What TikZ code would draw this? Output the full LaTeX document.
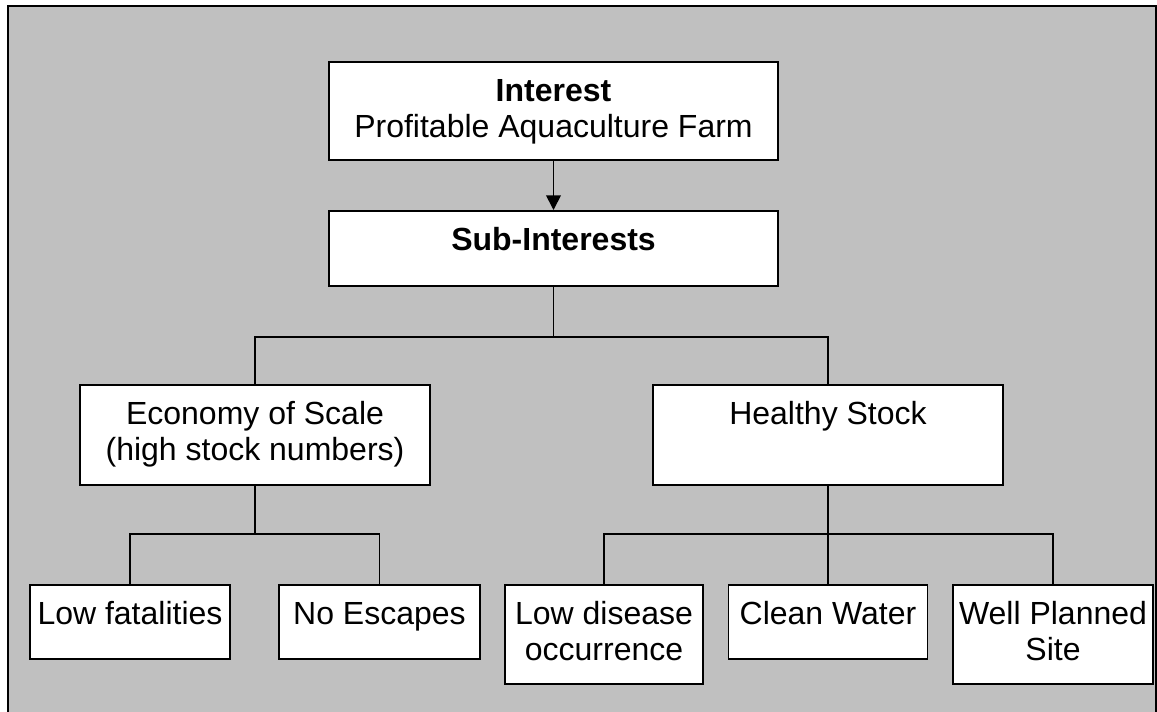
\documentclass[tikz,border=0pt]{standalone}
\usepackage{fontspec}
\setmainfont{Liberation Sans}
\usetikzlibrary{arrows.meta}
\definecolor{panelgray}{HTML}{C0C0C0}
\newcommand{\lines}[1]{\begin{tabular}[t]{@{}c@{}}#1\end{tabular}}
\begin{document}
\begin{tikzpicture}[x=0.75pt,y=-0.75pt,
  box/.style={draw=black, fill=white, line width=1.2pt, inner sep=0pt,
    anchor=north, text height=30pt,
    font=\fontsize{24}{27}\selectfont},
  wire/.style={draw=black, line width=1.3pt},
  arrowwire/.style={wire, -{Triangle[width=11pt,length=11pt]}}]
  \useasboundingbox (0,0) rectangle (1157,711);
  % grey panel with its frame
  \draw[fill=panelgray, line width=1.5pt] (8,6) rectangle (1156,730);

  % top level
  \node[box, minimum width=336.75pt, text depth=43.5pt] (int) at (553.5,61)
    {\lines{\textbf{Interest}\\Profitable Aquaculture Farm}};
  \node[box, minimum width=336.75pt, text depth=26.25pt] (sub) at (553.5,210)
    {\lines{\textbf{Sub-Interests}}};

  % second level
  \node[box, minimum width=262.5pt, text depth=45pt] (eco) at (255,384)
    {\lines{Economy of Scale\\(high stock numbers)}};
  \node[box, minimum width=262.5pt, text depth=45pt] (hs) at (828,384)
    {\lines{Healthy Stock}};

  % third level
  \node[box, minimum width=150pt, text depth=25.5pt] (lf) at (130,584)
    {\lines{Low fatalities}};
  \node[box, minimum width=150.75pt, text depth=25.5pt] (ne) at (379.5,584)
    {\lines{No Escapes}};
  \node[box, minimum width=148.5pt, text depth=44.25pt] (ld) at (604,584)
    {\lines{Low disease\\occurrence}};
  \node[box, minimum width=149.25pt, text depth=25.5pt] (cw) at (828,584)
    {\lines{Clean Water}};
  \node[box, minimum width=150pt, text depth=44.25pt] (wp) at (1053,584)
    {\lines{Well Planned\\Site}};

  % junction points of the tree
  \coordinate (j1) at (553.5,337);
  \coordinate (j2) at (255,534);
  \coordinate (j3) at (828,534);

  % connectors
  \draw[arrowwire] (int.south) -- (sub.north);
  \draw[wire] (sub.south) -- (j1);
  \draw[wire] (eco.north) |- (j1) -| (hs.north);
  \draw[wire] (eco.south) -- (j2);
  \draw[wire] (lf.north) |- (j2) -| (ne.north);
  \draw[wire] (hs.south) -- (j3);
  \draw[wire] (ld.north) |- (j3) -| (wp.north);
  \draw[wire] (j3) -- (cw.north);
\end{tikzpicture}
\end{document}
